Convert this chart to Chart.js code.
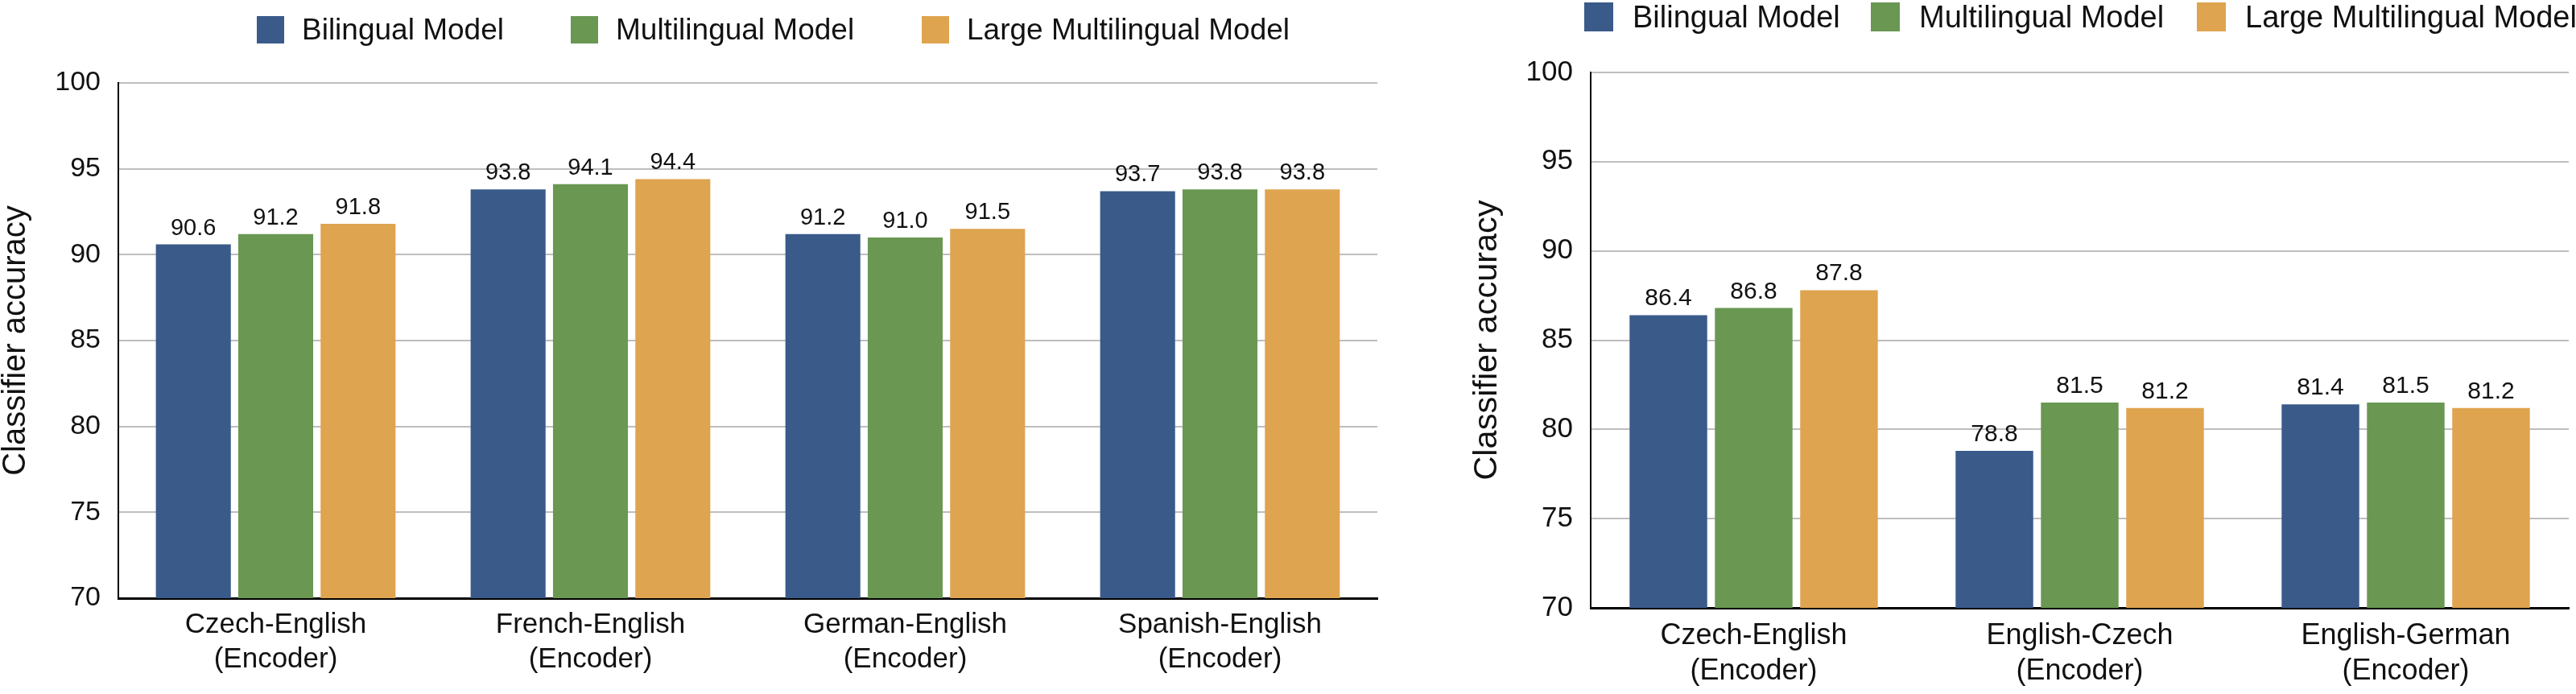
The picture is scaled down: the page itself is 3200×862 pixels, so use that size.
<!DOCTYPE html>
<html>
<head>
<meta charset="utf-8">
<script src="https://cdn.jsdelivr.net/npm/chart.js@4.4.1/dist/chart.umd.min.js"></script>
<style>
    body { margin: 0; background: #fff; width: 3200px; height: 862px; overflow: hidden; position: relative; font-family: "Liberation Sans", Arial, sans-serif; }
    .box { position: absolute; }
    .legend-item { position: absolute; display: flex; align-items: center; color: #111; white-space: nowrap; }
    .legend-item span.swatch { display: inline-block; }
</style>
</head>
<body>
<div class="box" id="left-box" style="left:0;top:0;width:1740px;height:862px;"><canvas id="leftChart"></canvas></div>
<div class="box" id="right-box" style="left:1800px;top:0;width:1400px;height:862px;"><canvas id="rightChart"></canvas></div>
<div id="left-legend"></div>
<div id="right-legend"></div>

<script>
// Data
const seriesNames = ['Bilingual Model', 'Multilingual Model', 'Large Multilingual Model'];
const seriesColors = ['#3A5A8A', '#6A9752', '#DEA44F'];

const leftCategories = [
    ['Czech-English', '(Encoder)'],
    ['French-English', '(Encoder)'],
    ['German-English', '(Encoder)'],
    ['Spanish-English', '(Encoder)']
];
const leftBilingual = [90.6, 93.8, 91.2, 93.7];
const leftMultilingual = [91.2, 94.1, 91.0, 93.8];
const leftLarge = [91.8, 94.4, 91.5, 93.8];

const rightCategories = [
    ['Czech-English', '(Encoder)'],
    ['English-Czech', '(Encoder)'],
    ['English-German', '(Encoder)']
];
const rightBilingual = [86.4, 78.8, 81.4];
const rightMultilingual = [86.8, 81.5, 81.5];
const rightLarge = [87.8, 81.2, 81.2];

const yMin = 70;
const yMax = 100;
const yStep = 5;
const yTitle = 'Classifier accuracy';

const FONT = '"Liberation Sans", Arial, Helvetica, sans-serif';

// Value labels above bars
const valueLabels = {
    id: 'valueLabels',
    afterDatasetsDraw(chart, args, opts) {
        const ctx = chart.ctx;
        ctx.save();
        ctx.font = `${opts.size}px ${FONT}`;
        ctx.fillStyle = '#111';
        ctx.textAlign = 'center';
        ctx.textBaseline = 'alphabetic';
        chart.data.datasets.forEach((ds, i) => {
            chart.getDatasetMeta(i).data.forEach((bar, j) => {
                ctx.fillText(ds.data[j].toFixed(1), bar.x, bar.y - opts.gap);
            });
        });
        ctx.restore();
    }
};

function makeChart(canvasId, categories, values, cfg) {
    const ctx = document.getElementById(canvasId).getContext('2d');
    return new Chart(ctx, {
        type: 'bar',
        data: {
            labels: categories,
            datasets: values.map((data, i) => ({
                label: seriesNames[i],
                data: data,
                backgroundColor: seriesColors[i],
                borderWidth: 0,
                categoryPercentage: 0.785,
                barPercentage: 0.91
            }))
        },
        options: {
            responsive: true,
            maintainAspectRatio: false,
            animation: false,
            devicePixelRatio: 1,
            layout: {
                padding: { left: cfg.padLeft, right: cfg.padRight, top: cfg.padTop, bottom: 0 }
            },
            scales: {
                x: {
                    grid: { display: false, drawTicks: false },
                    border: { display: true, color: '#000', width: 3 },
                    ticks: {
                        color: '#111',
                        padding: cfg.xPad,
                        font: { size: cfg.xFont, family: FONT, lineHeight: 1.22 }
                    },
                    afterFit: (scale) => { scale.height = cfg.xHeight; }
                },
                y: {
                    min: yMin,
                    max: yMax,
                    grid: { color: '#BEBEBE', lineWidth: 2, drawTicks: false },
                    border: { display: true, color: '#000', width: 2 },
                    ticks: {
                        stepSize: yStep,
                        color: '#111',
                        padding: 22,
                        font: { size: cfg.tickFont, family: FONT }
                    },
                    title: {
                        display: true,
                        text: yTitle,
                        color: '#111',
                        padding: 0,
                        font: { size: cfg.titleFont, family: FONT, lineHeight: 1 }
                    },
                    afterFit: (scale) => { scale.width = cfg.yWidth; }
                }
            },
            plugins: {
                legend: { display: false },
                tooltip: { enabled: false },
                valueLabels: { size: cfg.labelFont, gap: 12 }
            }
        },
        plugins: [valueLabels]
    });
}

function buildLegend(containerId, lefts, top, size, boxW, boxH, gap) {
    const container = document.getElementById(containerId);
    seriesNames.forEach((name, i) => {
        const item = document.createElement('div');
        item.className = 'legend-item';
        item.style.left = lefts[i] + 'px';
        item.style.top = top + 'px';
        item.style.height = boxH + 'px';
        item.style.fontSize = size + 'px';
        item.innerHTML = `<span class="swatch" style="width:${boxW}px;height:${boxH}px;background:${seriesColors[i]};margin-right:${gap}px"></span><span>${name}</span>`;
        container.appendChild(item);
    });
}

window.addEventListener('load', () => {
    makeChart('leftChart', leftCategories, [leftBilingual, leftMultilingual, leftLarge], {
        padLeft: 0, padRight: 29, padTop: 103,
        xHeight: 119, xPad: 12, xFont: 35,
        yWidth: 147, tickFont: 34, titleFont: 40, labelFont: 29
    });
    makeChart('rightChart', rightCategories, [rightBilingual, rightMultilingual, rightLarge], {
        padLeft: 27, padRight: 9, padTop: 90,
        xHeight: 107, xPad: 13, xFont: 36,
        yWidth: 149, tickFont: 35, titleFont: 41.5, labelFont: 30
    });

    buildLegend('left-legend', [319, 709, 1145], 20, 37, 34, 34, 22);
    buildLegend('right-legend', [1968, 2324, 2729], 3, 38, 36, 36, 24);
});
</script>
</body>
</html>
